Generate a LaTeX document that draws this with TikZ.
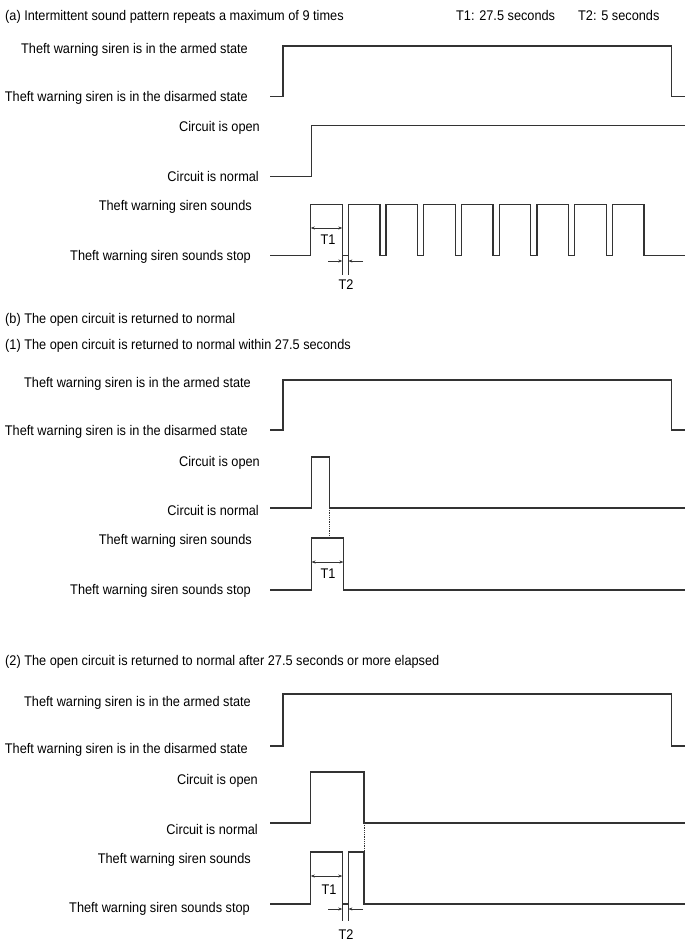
\documentclass[tikz,border=0pt]{standalone}
\usepackage{fontspec}
\setmainfont{Liberation Sans}[FakeStretch=0.91]
\usetikzlibrary{arrows.meta}
\tikzset{
	wave/.style = {line width=1.3pt, draw=black!80},
	lbl/.style  = {anchor=east, inner sep=0pt, text height=10pt, text depth=0pt},
	ttl/.style  = {anchor=west, inner sep=0pt, text height=10pt, text depth=0pt},
	tlab/.style = {inner sep=0pt, text height=10pt, text depth=0pt},
	dim/.style  = {line width=0.6pt, draw=black!80, {Stealth[length=4pt,width=3pt]}-{Stealth[length=4pt,width=3pt]}},
	dimin/.style = {line width=0.6pt, draw=black!80, -{Stealth[length=4pt,width=3pt]}},
	ext/.style  = {line width=0.6pt, draw=black!80},
	link/.style = {line width=0.8pt, densely dotted, draw=black!80}
}
\begin{document}
\begin{tikzpicture}[x=1pt, y=-1pt, font=\fontsize{14}{16}\selectfont]
	\useasboundingbox (0,0) rectangle (688,949);
	% titles
	\node[ttl] (ta) at (5,16) {(a) Intermittent sound pattern repeats a maximum of 9 times};
	\node[ttl] (tone) at (456,16) {T1: 27.5 seconds};
	\node[ttl] (ttwo) at (578,16) {T2: 5 seconds};
	\node[ttl] (tb) at (5,318) {(b) The open circuit is returned to normal};
	\node[ttl] (tb1) at (5,344) {(1) The open circuit is returned to normal within 27.5 seconds};
	\node[ttl] (tb2) at (5,660) {(2) The open circuit is returned to normal after 27.5 seconds or more elapsed};
	% (a) labels
	\node[lbl] (armA) at (248,49) {Theft warning siren is in the armed state};
	\node[lbl] (disA) at (248,97) {Theft warning siren is in the disarmed state};
	\node[lbl] (openA) at (260,127) {Circuit is open};
	\node[lbl] (normA) at (259,177) {Circuit is normal};
	\node[lbl] (sndA) at (252,206) {Theft warning siren sounds};
	\node[lbl] (stopA) at (251,256) {Theft warning siren sounds stop};
	% (a) waveforms
	\draw[wave] (270,96.7) -- (283,96.7) -- (283,46) -- (671.7,46) -- (671.7,96.7) -- (685,96.7);
	\draw[wave] (270,176.7) -- (311.5,176.7) -- (311.5,125.5) -- (685,125.5);
	\draw[wave] (270,255.7) \foreach \k in {0,...,8} {
		-- ({310.7+37.7*\k},255.7) -- ++(0,-51) -- ++(31.6,0) -- ++(0,51)} -- (685,255.7);
	% (a) T1 and T2
	\draw[dim] (310.7,228) -- (342.3,228);
	\node[tlab] (lt1a) at (328,240) {T1};
	\draw[ext] (342.3,255.7) -- (342.3,275);
	\draw[ext] (348.4,255.7) -- (348.4,275);
	\draw[dimin] (328,261) -- (342.3,261);
	\draw[dimin] (363,261) -- (348.4,261);
	\node[tlab] (lt2a) at (346,284) {T2};
	% (1) labels
	\node[lbl] (armB) at (251,382) {Theft warning siren is in the armed state};
	\node[lbl] (disB) at (248,430) {Theft warning siren is in the disarmed state};
	\node[lbl] (openB) at (260,461) {Circuit is open};
	\node[lbl] (normB) at (259,510) {Circuit is normal};
	\node[lbl] (sndB) at (252,539) {Theft warning siren sounds};
	\node[lbl] (stopB) at (251,589) {Theft warning siren sounds stop};
	% (1) waveforms
	\draw[wave] (270,430) -- (283,430) -- (283,380) -- (671.7,380) -- (671.7,430) -- (685,430);
	\draw[wave] (270,508) -- (311.5,508) -- (311.5,457) -- (329.5,457) -- (329.5,508) -- (685,508);
	\draw[wave] (270,590) -- (311.5,590) -- (311.5,538) -- (343.4,538) -- (343.4,590) -- (685,590);
	\draw[link] (329.5,508) -- (329.5,538);
	% (1) T1
	\draw[dim] (311.5,562) -- (343.4,562);
	\node[tlab] (lt1b) at (328,573) {T1};
	% (2) labels
	\node[lbl] (armC) at (251,701) {Theft warning siren is in the armed state};
	\node[lbl] (disC) at (248,748) {Theft warning siren is in the disarmed state};
	\node[lbl] (openC) at (258,779) {Circuit is open};
	\node[lbl] (normC) at (258,829) {Circuit is normal};
	\node[lbl] (sndC) at (251,858) {Theft warning siren sounds};
	\node[lbl] (stopC) at (250,907) {Theft warning siren sounds stop};
	% (2) waveforms
	\draw[wave] (270,746) -- (283,746) -- (283,694) -- (671.7,694) -- (671.7,746) -- (685,746);
	\draw[wave] (270,823) -- (310.7,823) -- (310.7,772) -- (364,772) -- (364,823) -- (685,823);
	\draw[wave] (270,904) -- (310.7,904) -- (310.7,852) -- (342.3,852) -- (342.3,904)
		-- (348.4,904) -- (348.4,852) -- (364,852) -- (364,904) -- (685,904);
	\draw[link] (364,823) -- (364,852);
	% (2) T1 and T2
	\draw[dim] (310.7,876) -- (342.3,876);
	\node[tlab] (lt1c) at (329,889) {T1};
	\draw[ext] (342.3,904) -- (342.3,921);
	\draw[ext] (348.4,904) -- (348.4,921);
	\draw[dimin] (328,909) -- (342.3,909);
	\draw[dimin] (363,909) -- (348.4,909);
	\node[tlab] (lt2c) at (346,934) {T2};
\end{tikzpicture}
\end{document}
